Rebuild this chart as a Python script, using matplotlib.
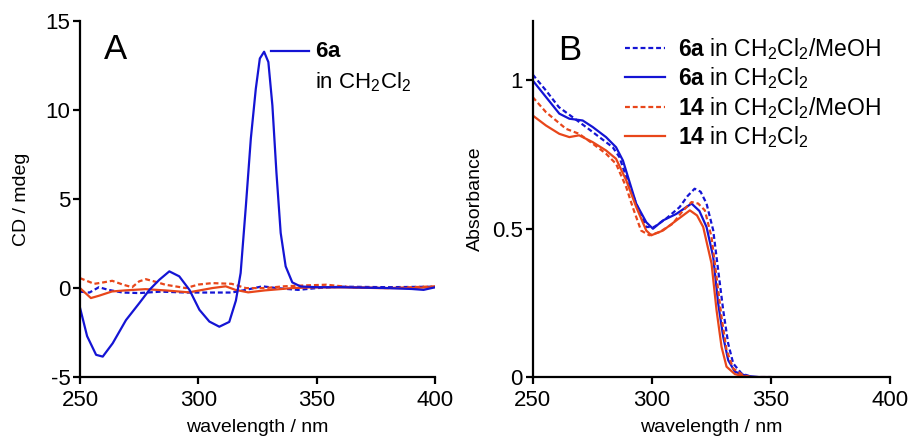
import numpy as np
import matplotlib
matplotlib.use("Agg")
import matplotlib.pyplot as plt

plt.rcParams['font.family'] = ['Liberation Sans', 'DejaVu Sans']
plt.rcParams['mathtext.fontset'] = 'custom'
plt.rcParams['mathtext.rm'] = 'Liberation Sans'
plt.rcParams['mathtext.it'] = 'Liberation Sans'
plt.rcParams['mathtext.bf'] = 'Liberation Sans:bold'
plt.rcParams['axes.unicode_minus'] = False

BLUE = '#1414d4'
ORANGE = '#e8461a'

# --- panel A: CD spectra ---
# 6a in CH2Cl2
cd_6a_x = [250, 253, 256.8, 259.6, 263.8, 269.4, 275, 279.3, 283.5, 287.7, 291.9, 296.2,
           300.4, 304.6, 308.8, 313, 315.8, 317.8, 320, 322.1, 324.2, 325.9, 327.7, 329.5,
           331.2, 332.9, 334.7, 336.8, 339.6, 343.1, 350, 360, 380, 390, 395, 400]
cd_6a_y = [-1.1, -2.7, -3.75, -3.85, -3.1, -1.8, -0.85, -0.1, 0.47, 0.94, 0.66, -0.1,
           -1.22, -1.88, -2.17, -1.9, -0.7, 0.85, 4.6, 8.4, 11.2, 12.9, 13.28, 12.7,
           10.26, 6.5, 3.1, 1.22, 0.32, 0.09, 0.05, 0.05, 0.0, -0.05, -0.1, 0.05]
# 6a in CH2Cl2/MeOH
cd_6am_x = [250, 254, 258, 262, 268, 275, 284, 295, 305, 314, 320, 327, 333, 342, 350, 360, 380, 400]
cd_6am_y = [-0.2, -0.25, 0.05, -0.1, -0.25, -0.28, -0.2, -0.25, -0.25, -0.25, -0.1, 0.1, 0.0, -0.1, 0.0, 0.08, 0.05, 0.08]
# 14 in CH2Cl2/MeOH
cd_14m_x = [250, 256, 259, 263.6, 268, 272, 275, 277.8, 282, 286, 294.7, 300, 305.8, 314, 320,
            328, 336, 345, 354, 365, 380, 400]
cd_14m_y = [0.56, 0.24, 0.3, 0.41, 0.2, 0.05, 0.38, 0.5, 0.35, 0.19, 0.0, 0.2, 0.28, 0.24, 0.0,
            0.0, 0.1, 0.15, 0.19, 0.04, 0.0, 0.1]
# 14 in CH2Cl2
cd_14_x = [250, 254.6, 258, 263.5, 269, 277.6, 286, 296, 305.8, 311.5, 315.6, 321, 328,
           339.6, 348, 362, 376, 390, 400]
cd_14_y = [0.0, -0.56, -0.43, -0.19, -0.13, -0.06, -0.13, -0.24, 0.0, 0.1, -0.1, -0.24, -0.13,
           0.0, 0.04, 0.04, 0.0, 0.0, 0.06]

# --- panel B: absorbance ---
ab_6a_x = [250, 255.6, 261.2, 265.4, 271, 275.2, 280.8, 285, 287.9, 290.7, 293.5, 297.7, 300.5,
           304.7, 310.3, 316.7, 320, 323, 325.8, 327.9, 330, 332.1, 334.9, 339.8, 345, 350]
ab_6a_y = [1.0, 0.944, 0.888, 0.871, 0.865, 0.843, 0.809, 0.775, 0.73, 0.657, 0.584, 0.522, 0.5,
           0.528, 0.55, 0.585, 0.56, 0.506, 0.405, 0.248, 0.136, 0.057, 0.018, 0.004, 0.0, 0.0]
ab_6am_x = [250, 255.6, 261, 266.8, 272.4, 278, 283.6, 286.4, 289.3, 293.5, 297.7, 301, 306,
            311.7, 315, 318, 320.5, 323, 325.8, 327.9, 330, 332.1, 334.2, 337.7, 342.3, 350]
ab_6am_y = [1.02, 0.966, 0.91, 0.876, 0.843, 0.809, 0.775, 0.742, 0.674, 0.584, 0.506, 0.506, 0.534,
            0.573, 0.61, 0.635, 0.625, 0.585, 0.495, 0.36, 0.226, 0.113, 0.046, 0.012, 0.0, 0.0]
ab_14_x = [250, 255.6, 261.2, 265.4, 269.5, 275.2, 280.8, 285, 289.3, 293.5, 297.7, 299.8, 304.7,
           310.3, 316, 319, 321.6, 325.1, 327.2, 329.3, 331.4, 334.9, 340, 350]
ab_14_y = [0.882, 0.848, 0.82, 0.809, 0.815, 0.792, 0.764, 0.736, 0.663, 0.573, 0.494, 0.478, 0.494,
           0.528, 0.562, 0.545, 0.506, 0.383, 0.226, 0.102, 0.035, 0.01, 0.0, 0.0]
ab_14m_x = [250, 255.6, 259.8, 264, 269.5, 275.2, 280.8, 285, 289.3, 292, 295.5, 299, 303.3,
            308.8, 313, 316.7, 319.5, 322.3, 325.1, 327.2, 329.3, 331.4, 334.2, 338.4, 342, 350]
ab_14m_y = [0.944, 0.893, 0.865, 0.837, 0.82, 0.787, 0.753, 0.719, 0.64, 0.573, 0.494, 0.478, 0.489,
            0.517, 0.56, 0.59, 0.585, 0.562, 0.472, 0.338, 0.203, 0.091, 0.029, 0.006, 0.0, 0.0]

lab_6am = r'$\mathbf{6a}$ in CH$_2$Cl$_2$/MeOH'
lab_6a = r'$\mathbf{6a}$ in CH$_2$Cl$_2$'
lab_14m = r'$\mathbf{14}$ in CH$_2$Cl$_2$/MeOH'
lab_14 = r'$\mathbf{14}$ in CH$_2$Cl$_2$'

DASH = (0, (2.2, 1.3))
LW = 1.6
TXT = 16


def style_ax(ax):
    for s in ['top', 'right']:
        ax.spines[s].set_visible(False)
    for s in ['left', 'bottom']:
        ax.spines[s].set_linewidth(1.6)
    ax.tick_params(direction='out', length=5, width=1.6, labelsize=TXT, pad=2)
    ax.tick_params(axis='x', pad=4)
    ax.set_xlim(250, 400)
    ax.set_xticks([250, 300, 350, 400])
    ax.set_xlabel('wavelength / nm', fontsize=14, labelpad=6)


fig = plt.figure(figsize=(9.09, 4.4), dpi=100)
axA = fig.add_axes([0.088, 0.143, 0.391, 0.809])
axB = fig.add_axes([0.586, 0.143, 0.393, 0.809])

# panel A
style_ax(axA)
axA.set_ylim(-5, 15)
axA.set_yticks([-5, 0, 5, 10, 15])
axA.set_ylabel('CD / mdeg', fontsize=14, labelpad=11)
axA.plot(cd_6am_x, cd_6am_y, color=BLUE, lw=LW, ls=DASH)
axA.plot(cd_14m_x, cd_14m_y, color=ORANGE, lw=LW, ls=DASH)
axA.plot(cd_14_x, cd_14_y, color=ORANGE, lw=LW)
axA.plot(cd_6a_x, cd_6a_y, color=BLUE, lw=LW)
axA.plot([330.6, 346.6], [13.3, 13.3], color=BLUE, lw=LW)
axA.text(349, 13.3, r'$\mathbf{6a}$', fontsize=TXT, va='center', ha='left')
axA.text(349, 11.55, r'in CH$_2$Cl$_2$', fontsize=TXT, va='center', ha='left')
axA.text(260, 13.4, 'A', fontsize=25, va='center', ha='left')

# panel B
style_ax(axB)
axB.set_ylim(0, 1.2)
axB.set_yticks([0, 0.5, 1])
axB.set_yticklabels(['0', '0.5', '1'])
axB.set_ylabel('Absorbance', fontsize=14, labelpad=6)
axB.plot(ab_6am_x, ab_6am_y, color=BLUE, lw=LW, ls=DASH, label=lab_6am)
axB.plot(ab_6a_x, ab_6a_y, color=BLUE, lw=LW, label=lab_6a)
axB.plot(ab_14m_x, ab_14m_y, color=ORANGE, lw=LW, ls=DASH, label=lab_14m)
axB.plot(ab_14_x, ab_14_y, color=ORANGE, lw=LW, label=lab_14)
axB.text(260.5, 1.10, 'B', fontsize=25, va='center', ha='left')
axB.legend(loc='upper left', bbox_to_anchor=(0.258, 0.958), frameon=False, fontsize=16.5,
           handlelength=1.75, handletextpad=0.55, labelspacing=0.15, borderaxespad=0,
           borderpad=0)

fig.savefig('out.png', dpi=100)
